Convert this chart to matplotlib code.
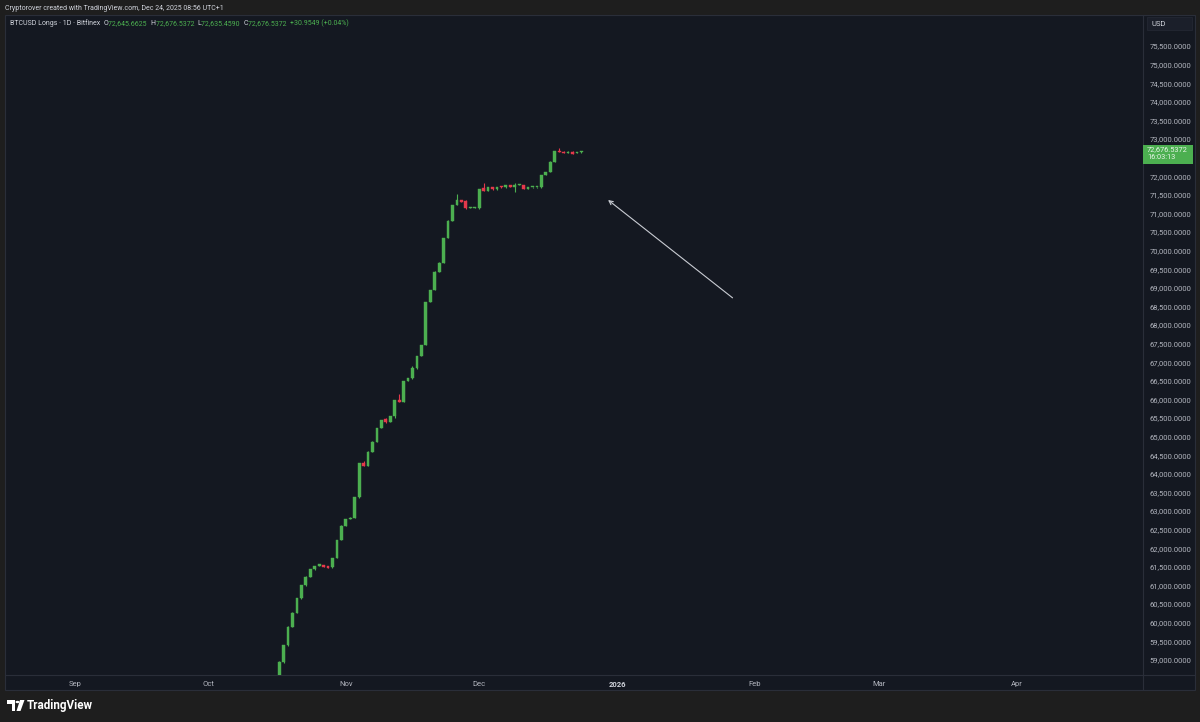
import numpy as np
import pandas as pd
import matplotlib
matplotlib.use("Agg")
import matplotlib.pyplot as plt
import matplotlib.dates as mdates
import matplotlib.transforms as mtransforms
from matplotlib.patches import Rectangle, Polygon, Circle

plt.rcParams['font.family'] = ['Roboto', 'DejaVu Sans']

# daily candles, Oct 17 -> Dec 24 2025
dates = pd.date_range("2025-10-17", periods=69, freq="D")
opens = [58450, 58940, 59400, 59890, 60270, 60650, 61010, 61235, 61430, 61520,
         61550, 61515, 61495, 61737, 62220, 62605, 62785, 62815, 63365, 64283,
         64210, 64595, 64864, 65224, 65466, 65400, 65555, 65984, 65935, 66503,
         66568, 66837, 67167, 67463, 68627, 68941, 69433, 69675, 70347, 70804,
         71226, 71360, 71342, 71140, 71150, 71137, 71675, 71610, 71702, 71648,
         71718, 71700, 71764, 71720, 71760, 71764, 71660, 71700, 71700, 71702,
         72032, 72105, 72390, 72686, 72660, 72616, 72660, 72620, 72645.6625]
highs = [58960, 59410, 59900, 60280, 60660, 61020, 61240, 61440, 61530, 61580,
         61560, 61520, 61740, 62225, 62610, 62790, 62825, 63370, 64290, 64345,
         64600, 64870, 65230, 65450, 65510, 65565, 65990, 66146, 66505, 66570,
         66900, 67170, 67465, 68630, 68945, 69440, 69680, 70350, 70810, 71230,
         71522, 71370, 71350, 71165, 71160, 71660, 71825, 71705, 71710, 71720,
         71725, 71760, 71770, 71825, 71795, 71770, 71705, 71708, 71708, 72035,
         72110, 72395, 72680, 72750, 72670, 72665, 72665, 72650, 72676.5372]
lows = [58400, 58920, 59380, 59870, 60250, 60630, 60990, 61220, 61420, 61510,
        61490, 61460, 61480, 61730, 62210, 62600, 62780, 62800, 63350, 64200,
        64200, 64590, 64860, 65220, 65365, 65390, 65500, 65925, 65930, 66500,
        66560, 66830, 67160, 67450, 68620, 68930, 69430, 69670, 70340, 70800,
        71220, 71300, 71130, 71135, 71140, 71130, 71600, 71600, 71640, 71640,
        71695, 71695, 71715, 71584, 71755, 71650, 71655, 71695, 71695, 71695,
        72025, 72100, 72385, 72650, 72610, 72610, 72590, 72615, 72635.4590]
closes = [58940, 59400, 59890, 60270, 60650, 61010, 61235, 61430, 61520, 61575,
          61495, 61470, 61737, 62220, 62605, 62785, 62815, 63365, 64283, 64210,
          64595, 64864, 65224, 65447, 65400, 65560, 65984, 65930, 66503, 66568,
          66837, 67167, 67463, 68627, 68941, 69433, 69675, 70347, 70804, 71226,
          71360, 71307, 71137, 71155, 71155, 71656, 71610, 71702, 71648, 71718,
          71700, 71756, 71720, 71764, 71791, 71656, 71702, 71704, 71704, 72032,
          72105, 72390, 72678, 72660, 72616, 72660, 72597, 72645.5823, 72676.5372]

month_ticks = pd.to_datetime(["2025-09-01", "2025-10-01", "2025-11-01", "2025-12-01",
                              "2026-01-01", "2026-02-01", "2026-03-01", "2026-04-01"])
month_labels = ["Sep", "Oct", "Nov", "Dec", "2026", "Feb", "Mar", "Apr"]
# 72,500 sits under the last-price box, so it is not listed
price_ticks = [p for p in range(59000, 75501, 500) if p != 72500]

# arrow drawn on the chart (tail -> tip)
arrow_tail = (pd.Timestamp("2026-01-27"), 68730)
arrow_tip = (pd.Timestamp("2025-12-30"), 71360)

BG = "#1e1e1e"
PANEL = "#141821"
BORDER = "#2a2e39"
GREEN = "#4caf50"
RED = "#e5394b"
TXT = "#b2b5be"

W, H = 1200, 722
fig = plt.figure(figsize=(12, 7.22), dpi=100, facecolor=BG)


def fx(px):
    return px / W


def fy(py):
    return 1 - py / H


# outer chart frame (chart + price scale + time scale)
fig.patches.append(Rectangle((fx(5), fy(690)), fx(1190), 675 / H, transform=fig.transFigure,
                             facecolor=PANEL, edgecolor=BORDER, lw=0.8, zorder=-5))
fig.lines.append(plt.Line2D([fx(1143), fx(1143)], [fy(690), fy(15)], transform=fig.transFigure,
                            color=BORDER, lw=0.8, zorder=-4))
fig.lines.append(plt.Line2D([fx(5), fx(1195)], [fy(675), fy(675)], transform=fig.transFigure,
                            color=BORDER, lw=0.8, zorder=-4))

ax = fig.add_axes([fx(5), fy(675), 1138 / W, 660 / H])
ax.set_facecolor("none")
for s in ax.spines.values():
    s.set_visible(False)

x = mdates.date2num(dates)
o = np.array(opens)
c = np.array(closes)
up = c >= o
cols = np.where(up, GREEN, RED)
body_lo = np.minimum(o, c)
body_h = np.maximum(np.abs(c - o), 28)

ax.vlines(x, lows, highs, colors=cols, lw=0.8, zorder=2)
ax.bar(x, body_h, bottom=body_lo, width=0.62, color=cols, edgecolor=cols, lw=0.3, zorder=3)

ax.set_xlim(mdates.date2num(pd.Timestamp("2025-08-16 08:00")),
            mdates.date2num(pd.Timestamp("2026-04-29 08:00")))
ymin, ymax = 58591, 76333
ax.set_ylim(ymin, ymax)

ax.set_xticks(mdates.date2num(month_ticks))
ax.set_xticklabels(month_labels)
for lbl in ax.get_xticklabels():
    lbl.set_color(TXT)
    lbl.set_fontsize(5.5)
    if lbl.get_text() == "2026":
        lbl.set_fontweight("bold")
        lbl.set_color("#d1d4dc")
ax.tick_params(axis="x", length=0, pad=4)

ax.yaxis.tick_right()
ax.set_yticks(price_ticks)
ax.set_yticklabels([f"{p:,.4f}" for p in price_ticks])
ax.tick_params(axis="y", length=0, pad=4.5, labelsize=5.5, labelcolor=TXT)

# arrow
ax.annotate("", xy=(mdates.date2num(arrow_tip[0]), arrow_tip[1]),
            xytext=(mdates.date2num(arrow_tail[0]), arrow_tail[1]),
            arrowprops=dict(arrowstyle="->", color="#c9ccd3", lw=0.8, mutation_scale=7,
                            shrinkA=0, shrinkB=0))

# last price label on the price scale
last = closes[-1]
per_px = (ymax - ymin) / 660
blend = mtransforms.blended_transform_factory(ax.transAxes, ax.transData)
ax.add_patch(Rectangle((1.0, last - 12.5 * per_px), 50 / 1138, 18.5 * per_px, transform=blend,
                       facecolor=GREEN, edgecolor="none", clip_on=False, zorder=5))
ax.text(1.0 + 4 / 1138, last + 4.5 * per_px, f"{last:,.4f}\n16:03:13", transform=blend,
        color="#e8f5e9", fontsize=5.3, va="top", ha="left", linespacing=1.0,
        clip_on=False, zorder=6)

# currency box
fig.patches.append(Rectangle((fx(1147), fy(30)), 45 / W, 13 / H, transform=fig.transFigure,
                             facecolor="#1b1f2a", edgecolor="#262a35", lw=0.5, zorder=1))
fig.text(fx(1151), fy(23.5), "USD", color="#d1d4dc", fontsize=5.5, va="center")

# header lines
fig.text(fx(5), fy(8.5), "Cryptorover created with TradingView.com, Dec 24, 2025 08:56 UTC+1",
         color="#d1d4dc", fontsize=5.0, va="center")

chg = closes[-1] - closes[-2]
pieces = [("O", "#d1d4dc"), (f"{opens[-1]:,.4f}  ", GREEN),
          ("H", "#d1d4dc"), (f"{highs[-1]:,.4f}  ", GREEN),
          ("L", "#d1d4dc"), (f"{lows[-1]:,.4f}  ", GREEN),
          ("C", "#d1d4dc"), (f"{closes[-1]:,.4f}  ", GREEN),
          (f"+{chg:.4f} (+{chg / closes[-2] * 100:.2f}%)", GREEN)]
t = fig.text(fx(10), fy(23.5), "BTCUSD Longs · 1D · Bitfinex  ", color="#d1d4dc",
             fontsize=5.0, va="center")
for txt, col in pieces:
    t = ax.annotate(txt, xy=(1, 0.5), xycoords=t, va="center", ha="left",
                    color=col, fontsize=5.0, annotation_clip=False)

# TradingView logo
fig.patches.append(Polygon([(fx(7), fy(700)), (fx(15), fy(700)), (fx(15), fy(711)), (fx(11.5), fy(711)),
                            (fx(11.5), fy(704)), (fx(7), fy(704))], closed=True,
                           transform=fig.transFigure, facecolor="white", edgecolor="none"))
fig.patches.append(Circle((fx(17.5), fy(702)), 2.0 / W, transform=fig.transFigure,
                          facecolor="white", edgecolor="none"))
fig.patches.append(Polygon([(fx(20), fy(700)), (fx(24.5), fy(700)), (fx(20.5), fy(711)), (fx(16.5), fy(711))],
                           closed=True, transform=fig.transFigure, facecolor="white", edgecolor="none"))
fig.text(fx(27), fy(705.5), "TradingView", color="white", fontsize=8.4, fontweight="bold", va="center")

fig.savefig("out.png", dpi=100, facecolor=BG)
